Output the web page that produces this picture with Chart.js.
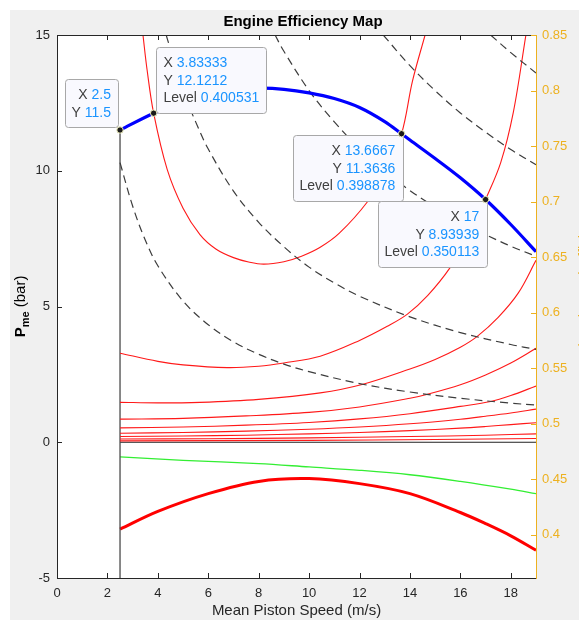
<!DOCTYPE html>
<html>
<head>
<meta charset="utf-8">
<script src="https://cdn.jsdelivr.net/npm/chart.js@4.4.1/dist/chart.umd.min.js"></script>
<style>
  html, body { margin: 0; padding: 0; background: #fff; overflow: hidden; }
  #fig { position: absolute; left: 10px; top: 10px; width: 586px; height: 610px; background: #f0f0f0; }
  canvas { display: block; }
</style>
</head>
<body>
<div id="fig"><canvas id="myChart" width="586" height="610"></canvas></div>
<script>
const FONT = "'Liberation Sans', Arial, Helvetica, sans-serif";

// ticks
const speedTicks = [0, 2, 4, 6, 8, 10, 12, 14, 16, 18];
const pmeTicks = [-5, 0, 5, 10, 15];
const effTicks = [0.4, 0.45, 0.5, 0.55, 0.6, 0.65, 0.7, 0.75, 0.8, 0.85];

// full load line (blue)
const fullLoadSpeed = [2.5, 3.833, 5, 6, 7, 8, 9, 10, 11, 12, 13, 13.667, 14, 15, 16, 17, 18, 19];
const fullLoadPme = [11.5, 12.12, 12.55, 12.8, 12.96, 13.04, 13.0, 12.87, 12.66, 12.33, 11.81, 11.36, 11.13, 10.45, 9.74, 8.94, 8.02, 7.02];

// efficiency contours (red, left axis)
const eff1Speed = [3.41, 3.57, 3.833, 4.37, 5.0, 5.67, 6.3, 7.0, 7.6, 8.2, 9.0, 9.7, 10.44, 11.2, 12.3, 13.0, 13.667, 14.1, 14.6];
const eff1Pme = [15, 13.74, 12.12, 10.05, 8.62, 7.65, 7.12, 6.8, 6.64, 6.56, 6.65, 6.85, 7.18, 7.7, 8.84, 9.9, 11.36, 13.3, 15];
const eff2Speed = [2.5, 4, 5, 6.75, 8, 9, 10.44, 12, 13.1, 13.9, 14.7, 15.6, 16.4, 17, 17.6, 18.1, 18.6];
const eff2Pme = [3.28, 2.98, 2.85, 2.75, 2.8, 2.92, 3.17, 3.75, 4.27, 4.72, 5.4, 6.44, 7.7, 8.94, 10.3, 12.15, 15];
const eff3Speed = [2.5, 4, 5.67, 8, 10.44, 12.1, 14, 15, 16, 16.67, 17.5, 18.3, 19];
const eff3Pme = [1.47, 1.45, 1.47, 1.58, 1.82, 2.13, 2.7, 3.05, 3.5, 3.9, 4.6, 5.5, 6.7];
const eff4Speed = [2.5, 5, 7.5, 10, 12, 14, 14.7, 16, 17, 18, 19];
const eff4Pme = [0.85, 0.88, 0.97, 1.1, 1.3, 1.62, 1.77, 2.12, 2.48, 2.92, 3.46];
const eff5Speed = [2.5, 5, 7.5, 10, 12, 14, 16, 17.2, 18, 19];
const eff5Pme = [0.53, 0.56, 0.63, 0.73, 0.86, 1.05, 1.32, 1.5, 1.72, 2.07];
const eff6Speed = [2.5, 5, 7.5, 10, 12, 14, 16, 17, 18, 19];
const eff6Pme = [0.33, 0.36, 0.41, 0.48, 0.56, 0.68, 0.85, 0.96, 1.08, 1.22];
const eff7Speed = [2.5, 5, 7.5, 10, 12, 14, 16, 17, 18, 19];
const eff7Pme = [0.21, 0.23, 0.26, 0.31, 0.36, 0.43, 0.52, 0.58, 0.65, 0.72];
const eff8Speed = [2.5, 6, 10, 14, 17, 19];
const eff8Pme = [0.12, 0.13, 0.16, 0.21, 0.26, 0.31];
const eff9Speed = [2.5, 10, 15, 19];
const eff9Pme = [0.05, 0.07, 0.1, 0.14];

// constant power lines (dashed)
const pow1Speed = [2.5, 3, 3.5, 4, 5, 6, 7, 8, 9, 10, 12, 14, 16, 18, 19];
const pow1Pme = [10.3, 8.7, 7.45, 6.5, 5.2, 4.33, 3.7, 3.24, 2.88, 2.6, 2.16, 1.85, 1.62, 1.44, 1.37];
const pow2Speed = [4.33, 5, 5.5, 6, 7, 8, 9, 10, 11, 12, 14, 16, 18, 19];
const pow2Pme = [15, 12.95, 11.8, 10.8, 9.25, 8.1, 7.2, 6.45, 5.87, 5.38, 4.62, 4.04, 3.6, 3.42];
const pow3Speed = [8.65, 9, 10, 11, 12, 13, 14, 15, 16, 17, 18, 19];
const pow3Pme = [15, 14.4, 12.95, 11.8, 10.82, 10.0, 9.27, 8.66, 8.12, 7.65, 7.22, 6.85];
const pow4Speed = [12.94, 14, 15, 16, 17, 18, 19];
const pow4Pme = [15, 13.87, 12.95, 12.13, 11.42, 10.78, 10.22];
const pow5Speed = [17.2, 18, 19];
const pow5Pme = [15, 14.35, 13.6];

// limits drawn as thin lines
const minSpeedLine = [2.5, 2.5];
const minSpeedPme = [-5, 11.5];
const zeroSpeed = [2.5, 19];
const zeroPme = [0, 0];

// right axis curves
const bestEffSpeed = [2.5, 4, 6, 8, 10, 12, 14, 16, 17, 18, 19];
const bestEff = [0.405, 0.421, 0.437, 0.448, 0.4505, 0.446, 0.437, 0.42, 0.41, 0.399, 0.386];
const greenSpeed = [2.5, 5, 8, 10, 12, 14, 16, 18, 19];
const greenEff = [0.47, 0.467, 0.464, 0.461, 0.458, 0.454, 0.448, 0.441, 0.437];

// data tips
const tipSpeed = [2.5, 3.83333, 13.6667, 17];
const tipPme = [11.5, 12.1212, 11.3636, 8.93939];
const tipLevel = ['', '0.400531', '0.398878', '0.350113'];

const pts = (xs, ys) => xs.map((x, i) => ({ x: x, y: ys[i] }));

function serie(xs, ys, color, width, extra) {
  return Object.assign({
    data: pts(xs, ys),
    borderColor: color,
    borderWidth: width,
    pointRadius: 0,
    fill: false,
    clip: 0,
    tension: 0.35,
    yAxisID: 'y'
  }, extra || {});
}

const RED = 'rgb(255,25,25)';
const DASH = { borderDash: [8, 5] };
const STRAIGHT = { tension: 0 };

const datasets = [
  serie(fullLoadSpeed, fullLoadPme, '#0000ff', 3.2),
  serie(pow1Speed, pow1Pme, '#3c3c3c', 1.2, DASH),
  serie(pow2Speed, pow2Pme, '#3c3c3c', 1.2, DASH),
  serie(pow3Speed, pow3Pme, '#3c3c3c', 1.2, DASH),
  serie(pow4Speed, pow4Pme, '#3c3c3c', 1.2, DASH),
  serie(pow5Speed, pow5Pme, '#3c3c3c', 1.2, DASH),
  serie(eff1Speed, eff1Pme, RED, 1.1),
  serie(eff2Speed, eff2Pme, RED, 1.1),
  serie(eff3Speed, eff3Pme, RED, 1.1),
  serie(eff4Speed, eff4Pme, RED, 1.1),
  serie(eff5Speed, eff5Pme, RED, 1.1),
  serie(eff6Speed, eff6Pme, RED, 1.1),
  serie(eff7Speed, eff7Pme, RED, 1.1),
  serie(eff8Speed, eff8Pme, RED, 1.1),
  serie(eff9Speed, eff9Pme, RED, 1.1),
  serie(minSpeedLine, minSpeedPme, '#4a4a4a', 1.3, STRAIGHT),
  serie(zeroSpeed, zeroPme, '#222', 1, STRAIGHT),
  serie(greenSpeed, greenEff, '#33ee33', 1.3, { yAxisID: 'y1' }),
  serie(bestEffSpeed, bestEff, '#ff0000', 3, { yAxisID: 'y1' })
];

function drawTip(ctx, px, py, lines, anchor) {
  ctx.font = '14px ' + FONT;
  const widths = lines.map(l => ctx.measureText(l[0] + ' ').width + ctx.measureText(l[1]).width);
  const w = Math.max(...widths) + 14;
  const h = lines.length * 17.5 + 13;
  let left, top;
  if (anchor === 'br') { left = px - 2 - w; top = py - 3 - h; }
  else if (anchor === 'bl') { left = px + 2; top = py - 1 - h; }
  else { left = px + 1 - w; top = py + 1; }
  left = Math.round(left) + 0.5; top = Math.round(top) + 0.5;
  ctx.beginPath();
  ctx.roundRect(left, top, Math.round(w), Math.round(h), 3);
  ctx.fillStyle = '#f9f9fe';
  ctx.fill();
  ctx.strokeStyle = '#a8a8a8';
  ctx.lineWidth = 1;
  ctx.stroke();
  ctx.textBaseline = 'middle';
  lines.forEach((l, i) => {
    const ty = top + 16 + i * 17.5;
    const lw = ctx.measureText(l[0] + ' ').width;
    const vw = ctx.measureText(l[1]).width;
    let tx;
    if (anchor === 'bl') tx = left + 7;
    else tx = left + w - 8 - lw - vw;
    ctx.textAlign = 'left';
    ctx.fillStyle = '#404040';
    ctx.fillText(l[0] + ' ', tx, ty);
    ctx.fillStyle = '#1a94ff';
    ctx.fillText(l[1], tx + lw, ty);
  });
  // marker
  ctx.beginPath();
  ctx.arc(px, py, 3.2, 0, Math.PI * 2);
  ctx.fillStyle = '#1a1a1a';
  ctx.fill();
  ctx.strokeStyle = '#f2f2c0';
  ctx.lineWidth = 1;
  ctx.stroke();
}

const matlabLook = {
  id: 'matlabLook',
  beforeDraw(chart) {
    const { ctx, chartArea: a } = chart;
    ctx.save();
    ctx.fillStyle = '#fff';
    ctx.fillRect(a.left, a.top, a.right - a.left, a.bottom - a.top);
    ctx.restore();
  },
  afterDraw(chart) {
    const { ctx, chartArea: a, scales } = chart;
    const sx = scales.x, sy = scales.y, sy1 = scales.y1;
    ctx.save();
    ctx.lineWidth = 1;
    const seg = (x1, y1, x2, y2) => { ctx.beginPath(); ctx.moveTo(x1, y1); ctx.lineTo(x2, y2); ctx.stroke(); };
    // box top line and inward ticks
    ctx.strokeStyle = '#262626';
    seg(a.left, Math.round(a.top) + 0.5, a.right, Math.round(a.top) + 0.5);
    sx.ticks.forEach(t => {
      const p = Math.round(sx.getPixelForValue(t.value)) + 0.5;
      seg(p, a.bottom, p, a.bottom - 5);
      seg(p, a.top, p, a.top + 5);
    });
    sy.ticks.forEach(t => {
      const p = Math.round(sy.getPixelForValue(t.value)) + 0.5;
      seg(a.left, p, a.left + 5, p);
    });
    ctx.strokeStyle = '#EDB120';
    sy1.ticks.forEach(t => {
      const p = Math.round(sy1.getPixelForValue(t.value)) + 0.5;
      seg(a.right, p, a.right - 5, p);
    });

    // data tips
    const anchors = ['br', 'bl', 'tr', 'tr'];
    tipSpeed.forEach((s, i) => {
      const lines = [['X', String(s)], ['Y', String(tipPme[i])]];
      if (tipLevel[i]) lines.push(['Level', tipLevel[i]]);
      drawTip(ctx, sx.getPixelForValue(s), sy.getPixelForValue(tipPme[i]), lines, anchors[i]);
    });

    // left axis title  P_me (bar)
    const cy = (a.top + a.bottom) / 2;
    ctx.translate(15, cy);
    ctx.rotate(-Math.PI / 2);
    ctx.textAlign = 'left';
    ctx.textBaseline = 'alphabetic';
    ctx.fillStyle = '#000';
    const fP = 'bold 15px ' + FONT, fS = 'bold 11px ' + FONT, fR = '15px ' + FONT;
    ctx.font = fP; const wP = ctx.measureText('P').width;
    ctx.font = fS; const wS = ctx.measureText('me').width;
    ctx.font = fR; const wR = ctx.measureText(' (bar)').width;
    let x = -(wP + wS + wR) / 2;
    ctx.font = fP; ctx.fillText('P', x, 0); x += wP;
    ctx.font = fS; ctx.fillText('me', x, 4); x += wS;
    ctx.font = fR; ctx.fillText(' (bar)', x, 0);
    ctx.setTransform(1, 0, 0, 1, 0, 0);

    // right axis title (runs off the window edge)
    ctx.translate(579, cy - 20);
    ctx.rotate(-Math.PI / 2);
    ctx.textAlign = 'center';
    ctx.fillStyle = '#EDB120';
    ctx.font = '15px ' + FONT;
    ctx.fillText('Brake Thermal Efficiency', 0, 0);
    ctx.restore();
  }
};

const ctx = document.getElementById('myChart');
new Chart(ctx, {
  type: 'line',
  data: { datasets: datasets },
  options: {
    responsive: false,
    animation: false,
    events: [],
    layout: { padding: 0 },
    plugins: {
      legend: { display: false },
      tooltip: { enabled: false },
      title: {
        display: true,
        text: 'Engine Efficiency Map',
        color: '#000',
        font: { family: FONT, size: 15, weight: 'bold' },
        padding: { top: 3, bottom: 4 }
      }
    },
    scales: {
      x: {
        type: 'linear',
        min: 0,
        max: 19,
        afterBuildTicks: s => { s.ticks = speedTicks.map(v => ({ value: v })); },
        afterFit: s => { s.height = 42; },
        grid: { display: true, drawOnChartArea: false, drawTicks: false },
        border: { display: true, color: '#262626', width: 1 },
        ticks: { color: '#262626', padding: 8, maxRotation: 0, font: { family: FONT, size: 13 }, callback: v => String(v) },
        title: { display: true, text: 'Mean Piston Speed (m/s)', color: '#262626', font: { family: FONT, size: 15 }, padding: { top: 0, bottom: 0 } }
      },
      y: {
        type: 'linear',
        position: 'left',
        min: -5,
        max: 15,
        afterBuildTicks: s => { s.ticks = pmeTicks.map(v => ({ value: v })); },
        afterFit: s => { s.width = 47; },
        grid: { display: true, drawOnChartArea: false, drawTicks: false },
        border: { display: true, color: '#262626', width: 1 },
        ticks: { color: '#262626', padding: 7, font: { family: FONT, size: 13 }, callback: v => String(v) }
      },
      y1: {
        type: 'linear',
        position: 'right',
        min: 0.361,
        max: 0.85,
        afterBuildTicks: s => { s.ticks = effTicks.map(v => ({ value: v })); },
        afterFit: s => { s.width = 60; },
        grid: { display: true, drawOnChartArea: false, drawTicks: false },
        border: { display: true, color: '#EDB120', width: 1 },
        ticks: { color: '#EDB120', padding: 6, font: { family: FONT, size: 13 }, callback: v => String(+(+v).toFixed(2)) }
      }
    }
  },
  plugins: [matlabLook]
});
</script>
</body>
</html>
